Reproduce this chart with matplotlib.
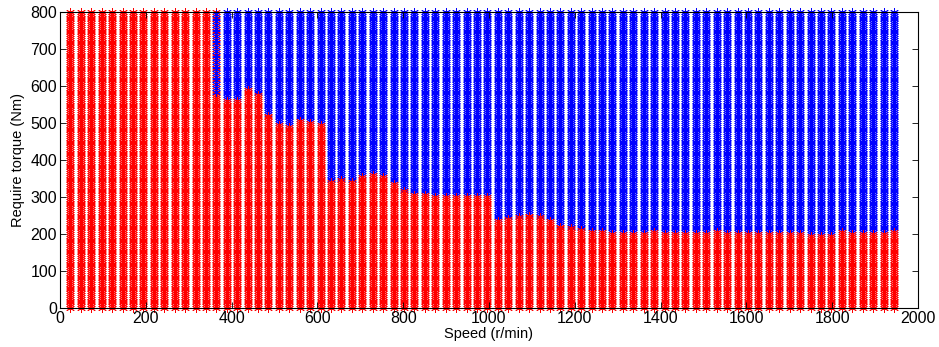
import numpy as np
import matplotlib
matplotlib.use('Agg')
import matplotlib.pyplot as plt

plt.rcParams['font.family'] = ['Liberation Sans', 'DejaVu Sans']

# operating grid (speed in r/min, torque in Nm)
speeds = 24.3 * np.arange(1, 81)
torques = np.arange(0, 805, 5)

# highest torque reached by the red points in each speed column
red_limit = [800, 800, 800, 800, 800, 800, 800, 800, 800, 800,
             800, 800, 800, 800, 800, 560, 560, 590, 575, 520,
             495, 490, 505, 500, 495, 340, 345, 340, 355, 360,
             355, 335, 315, 305, 305, 300, 300, 300, 300, 300,
             300, 235, 240, 245, 250, 245, 235, 220, 215, 210,
             205, 205, 200, 200, 200, 200, 205, 200, 200, 200,
             200, 200, 205, 200, 200, 200, 200, 200, 200, 200,
             200, 195, 195, 195, 205, 200, 200, 200, 200, 205]

# column where both sets overlap, and where the blue points start there
mixed_col = 14
mixed_blue_from = 580

red_x, red_y, blue_x, blue_y = [], [], [], []
mix_x, mix_y = [], []
for i, (s, lim) in enumerate(zip(speeds, red_limit)):
    for j, t in enumerate(torques):
        if i == mixed_col and t >= mixed_blue_from:
            if j % 2 == 1:
                mix_x.append(s)
                mix_y.append(t)
            else:
                red_x.append(s)
                red_y.append(t)
        elif t <= lim:
            red_x.append(s)
            red_y.append(t)
        else:
            blue_x.append(s)
            blue_y.append(t)

fig = plt.figure(figsize=(9.39, 3.47), dpi=100)
ax = fig.add_axes([0.0639, 0.1124, 0.9137, 0.853])

style = dict(marker=(6, 2, 0), s=33, linewidths=0.6, clip_on=False)
ax.scatter(blue_x, blue_y, color='#0000ff', **style)
ax.scatter(red_x, red_y, color='#ff0000', **style)
ax.scatter(mix_x, mix_y, color='#0000ff', zorder=1.5, **style)

ax.set_xlim(0, 2000)
ax.set_ylim(0, 800)
ax.set_xticks(np.arange(0, 2001, 200))
ax.set_yticks(np.arange(0, 801, 100))
ax.tick_params(direction='in', top=True, right=True, labelsize=11.5,
               length=4, width=0.6, pad=2)
for sp in ax.spines.values():
    sp.set_linewidth(0.8)

ax.set_xlabel('Speed (r/min)', fontsize=10.5, labelpad=1)
ax.set_ylabel('Require torque (Nm)', fontsize=10.5, labelpad=4)

fig.savefig('out.png', dpi=100)
